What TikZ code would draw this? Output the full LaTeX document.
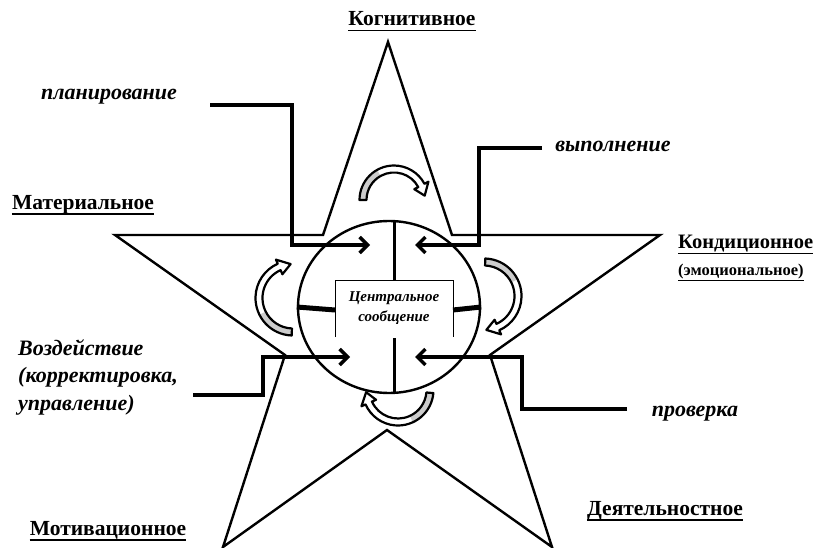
\documentclass[tikz,border=0pt]{standalone}
\usepackage{fontspec}
\setmainfont{Liberation Serif}
\usetikzlibrary{arrows.meta,shapes.geometric}

\newcommand\blockarc[5]{% cx cy r a1 a2
  \begin{scope}[shift={(#1,#2)}]
    \pgfmathsetmacro\baro{#3+3.5}
    \pgfmathsetmacro\bari{#3-3.5}
    \pgfmathsetmacro\barho{#3+8}
    \pgfmathsetmacro\barhi{#3-8}
    \pgfmathsetmacro\baab{#5-20}
    \pgfmathsetmacro\baag{#4+0.4*(\baab-#4)}
    \fill[white] (#4:\baro) arc[start angle=#4, end angle=\baab, radius=\baro]
      -- (\baab:\barho) -- (#5:#3) -- (\baab:\barhi) -- (\baab:\bari)
      arc[start angle=\baab, end angle=#4, radius=\bari] -- cycle;
    \fill[gray!40] (#4:\baro) arc[start angle=#4, end angle=\baag, radius=\baro]
      -- (\baag:\bari) arc[start angle=\baag, end angle=#4, radius=\bari] -- cycle;
    \draw[line width=2.2pt, line join=round] (#4:\baro) arc[start angle=#4, end angle=\baab, radius=\baro]
      -- (\baab:\barho) -- (#5:#3) -- (\baab:\barhi) -- (\baab:\bari)
      arc[start angle=\baab, end angle=#4, radius=\bari] -- cycle;
  \end{scope}}

\begin{document}
\begin{tikzpicture}[x=1pt,y=-1pt,
  starline/.style={line width=2.4pt, line join=miter},
  lead/.style={line width=3.4pt, line join=miter, -{Straight Barb[length=8pt,width=16pt]}},
  lbl/.style={font=\bfseries\fontsize{21.5}{24}\selectfont, inner sep=0pt},
  ilbl/.style={font=\bfseries\itshape\fontsize{22}{24}\selectfont, inner sep=0pt},
  uline/.style={line width=1.8pt},
]
\useasboundingbox (0,0) rectangle (825,548);

% star
\draw[starline] (388,42) -- (452,235) -- (660,235) -- (490,355) -- (552,547)
  -- (387,430) -- (223,547) -- (285,355) -- (115,235) -- (323,235) -- cycle;

% central circle
\node[draw, line width=2.4pt, ellipse, minimum width=182pt, minimum height=172pt, inner sep=0pt] (circ) at (389,307) {};

% central box
\node[font=\bfseries\itshape\fontsize{15}{20}\selectfont, align=center, inner sep=0pt] (cen) at (394,308) {Центральное\\сообщение};
\draw[line width=1pt] (335,337) -- (335,281) -- (453,281) -- (453,337);

% inner cross
\draw[line width=3pt] (circ.north -| 394,0) -- (394,280);
\draw[line width=3pt] (394,338) -- (circ.south -| 394,0);
\draw[line width=5pt] (circ.west) -- (335,310);
\draw[line width=5pt] (453,310) -- (circ.east);

% curved arrows
\blockarc{394}{200}{31}{180}{352}
\blockarc{484}{296}{34}{-88}{86}
\blockarc{398}{390}{32}{5}{176}
\blockarc{293}{298}{34}{92}{266}

% labels
\node[lbl] (kog) at (412,19) {Когнитивное};
\node[lbl] (mat) at (83,205) {Материальное};
\node[lbl, anchor=west, font=\bfseries\fontsize{20.5}{24}\selectfont] (kon) at (678,244) {Кондиционное};
\node[lbl, anchor=west, font=\bfseries\fontsize{16.5}{18}\selectfont] (emo) at (678,272) {(эмоциональное)};
\node[lbl] (mot) at (108,530) {Мотивационное};
\node[lbl] (dey) at (665,511) {Деятельностное};
\foreach \n in {kog,mat,kon,emo,mot,dey}
  \draw[uline] ([yshift=-4.5pt]\n.base west) -- ([yshift=-4.5pt]\n.base east);

\node[ilbl] (plan) at (109,97) {планирование};
\node[ilbl] (vyp) at (613,146) {выполнение};
\node[ilbl, anchor=west] (voz1) at (18,348) {Воздействие};
\node[ilbl, anchor=west] (voz2) at (18,377) {(корректировка,};
\node[ilbl, anchor=west] (voz3) at (18,405) {управление)};
\node[ilbl] (prov) at (695,414) {проверка};

% leader connectors
\coordinate (pl0) at (210,105);
\coordinate (pl1) at (292,245);
\coordinate (plt) at (370,245);
\draw[lead] (pl0) -| (pl1) -- (plt);

\coordinate (vy0) at (542,148);
\coordinate (vy1) at (479,245);
\coordinate (vyt) at (415,245);
\draw[lead] (vy0) -| (vy1) -- (vyt);

\coordinate (vz0) at (193,395);
\coordinate (vz1) at (263,357);
\coordinate (vzt) at (350,357);
\draw[lead] (vz0) -| (vz1) -- (vzt);

\coordinate (pr0) at (627,409);
\coordinate (pr1) at (522,357);
\coordinate (prt) at (415,357);
\draw[lead] (pr0) -| (pr1) -- (prt);
\end{tikzpicture}
\end{document}
